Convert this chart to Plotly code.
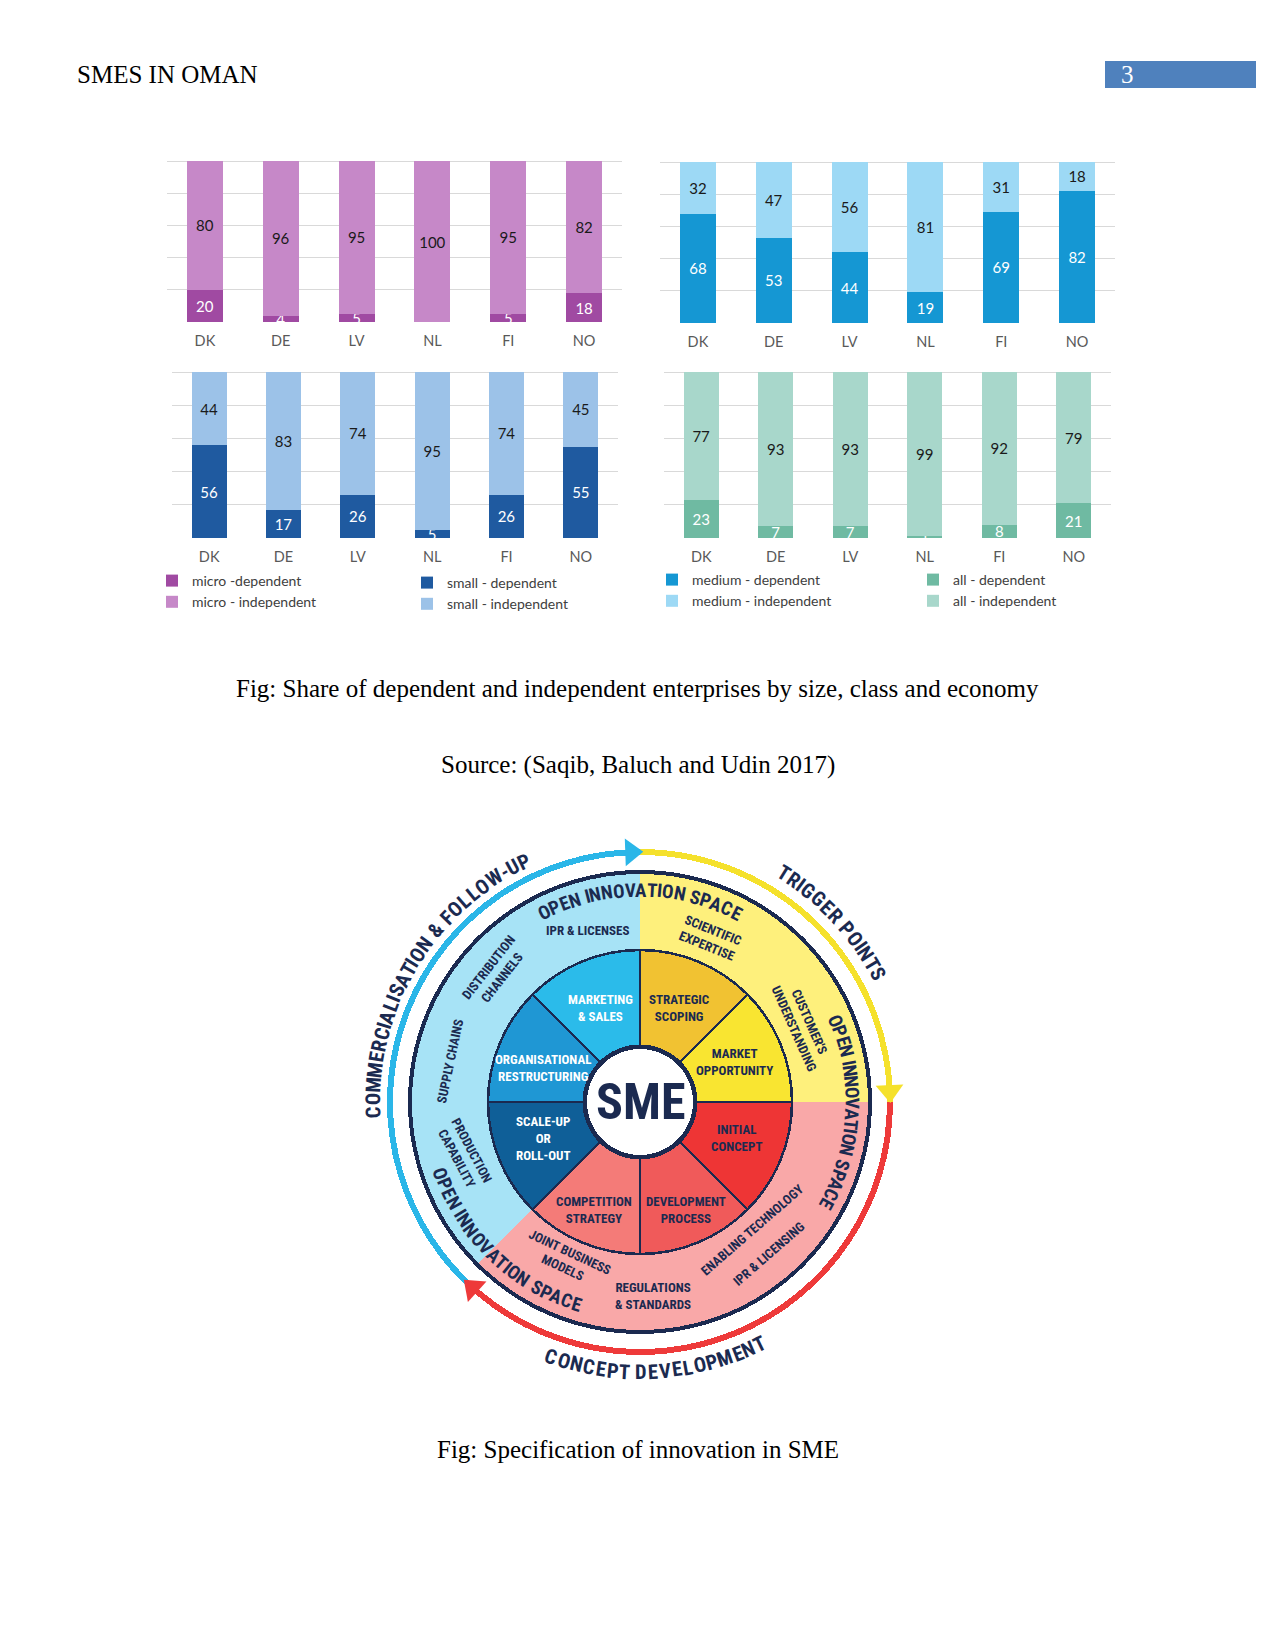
import math
import plotly.graph_objects as go

PAGE_W, PAGE_H = 1275, 1651
OFF = 8                      # default page margin of the html body
W, H = PAGE_W - OFF, PAGE_H - OFF

# ---------------- data ----------------
countries = ["DK", "DE", "LV", "NL", "FI", "NO"]
micro_dependent = [20, 4, 5, 0, 5, 18]
micro_independent = [80, 96, 95, 100, 95, 82]
medium_dependent = [68, 53, 44, 19, 69, 82]
medium_independent = [32, 47, 56, 81, 31, 18]
small_dependent = [56, 17, 26, 5, 26, 55]
small_independent = [44, 83, 74, 95, 74, 45]
all_dependent = [23, 7, 7, 1, 8, 21]
all_independent = [77, 93, 93, 99, 92, 79]

# innovation wheel
core_label = "SME"
inner_labels = ["MARKET<br>OPPORTUNITY", "STRATEGIC<br>SCOPING", "MARKETING<br>& SALES",
                "ORGANISATIONAL<br>RESTRUCTURING", "SCALE-UP<br>OR<br>ROLL-OUT",
                "COMPETITION<br>STRATEGY", "DEVELOPMENT<br>PROCESS", "INITIAL<br>CONCEPT"]
inner_start = [0, 45, 90, 135, 180, 225, 270, 315]
inner_end = [45, 90, 135, 180, 225, 270, 315, 360]
outer_start = [0, 90, 225]
outer_end = [90, 225, 360]
outer_items = ["IPR & LICENSES", "SCIENTIFIC<br>EXPERTISE", "CUSTOMER'S<br>UNDERSTANDING",
               "DISTRIBUTION<br>CHANNELS", "SUPPLY CHAINS", "PRODUCTION<br>CAPABILITY",
               "JOINT BUSINESS<br>MODELS", "REGULATIONS<br>& STANDARDS",
               "ENABLING TECHNOLOGY", "IPR & LICENSING"]
space_label = "OPEN INNOVATION SPACE"
phase_labels = ["TRIGGER POINTS", "COMMERCIALISATION & FOLLOW-UP", "CONCEPT DEVELOPMENT"]
phase_start = [0, 90, 226]
phase_end = [90, 226, 360]

# ---------------- styles ----------------
NAVY = "#1B2A50"
GRID = "#D9D9D9"
TICK = "#595959"
BARFONT = "Lato, Carlito, Calibri, sans-serif"
WFONT = "Liberation Sans Narrow, Arial Narrow, Roboto Condensed, DejaVu Sans Condensed, Roboto, sans-serif"
SERIF = "Liberation Serif, Times New Roman, serif"


def px(x, y):
    """page pixel -> paper coordinates"""
    return (x - OFF) / W, 1 - (y - OFF) / H


fig = go.Figure()

charts = [
    dict(key="", dom_x=(167, 622), dom_y=(161, 322), dep=micro_dependent, ind=micro_independent,
         names=("micro -dependent", "micro - independent"), colors=("#A04AA2", "#C688C8"),
         legend="legend"),
    dict(key="2", dom_x=(660, 1115), dom_y=(162, 323), dep=medium_dependent, ind=medium_independent,
         names=("medium - dependent", "medium - independent"), colors=("#1597D3", "#9DD9F5"),
         legend="legend2"),
    dict(key="3", dom_x=(172, 618), dom_y=(372, 538), dep=small_dependent, ind=small_independent,
         names=("small - dependent", "small - independent"), colors=("#1F5AA0", "#9CC2E8"),
         legend="legend3"),
    dict(key="4", dom_x=(664, 1111), dom_y=(372, 538), dep=all_dependent, ind=all_independent,
         names=("all - dependent", "all - independent"), colors=("#6FBAA2", "#A8D7CB"),
         legend="legend4"),
]

YTOP = 101
layout_axes = {}
for c in charts:
    k = c["key"]
    for vals, name, col, tcol in [(c["dep"], c["names"][0], c["colors"][0], "#FFFFFF"),
                                  (c["ind"], c["names"][1], c["colors"][1], "#1A1A1A")]:
        fig.add_trace(go.Bar(
            x=countries, y=vals, name=name, marker=dict(color=col, line=dict(width=0)),
            text=[str(v) for v in vals], textposition="inside", insidetextanchor="middle",
            textangle=0, constraintext="none",
            textfont=dict(color=tcol, size=15, family=BARFONT),
            xaxis="x" + k, yaxis="y" + k, legend=c["legend"], hoverinfo="skip"))
    x0, x1 = c["dom_x"]
    ytop, ybot = c["dom_y"]
    ytop_ext = ybot - (ybot - ytop) * YTOP / 100.0
    layout_axes["xaxis" + k] = dict(
        domain=[px(x0, 0)[0], px(x1, 0)[0]], anchor="y" + k, type="category",
        showgrid=False, zeroline=False, showline=False, ticks="",
        tickfont=dict(size=14.5, color=TICK, family=BARFONT), ticklabelstandoff=8)
    layout_axes["yaxis" + k] = dict(
        domain=[px(0, ybot)[1], px(0, ytop_ext)[1]], anchor="x" + k,
        range=[0, YTOP], tickvals=[0, 20, 40, 60, 80, 100], showticklabels=False, showgrid=True,
        gridcolor=GRID, gridwidth=1, zeroline=False, showline=False, ticks="")

legend_pos = {"legend": (192, 577), "legend2": (692, 576), "legend3": (447, 579), "legend4": (953, 576)}
legends = {}
for lk, (tx, ty) in legend_pos.items():
    lx, ly = px(tx - 40, ty - 12)
    legends[lk] = dict(x=lx, y=ly, xanchor="left", yanchor="top",
                       orientation="v", traceorder="normal", bgcolor="rgba(0,0,0,0)",
                       font=dict(size=14, color="#404040", family=BARFONT), tracegroupgap=0)

# ---------------- wheel ----------------
CX, CY = 640, 1102
HALF = 300
R_CORE, R_INNER, R_OUTER, R_ARC = 53, 152, 228, 250


def sector(a, b):
    return (a + b) / 2.0, b - a


fig.add_trace(go.Barpolar(theta=[180], width=[360], base=[0], r=[R_OUTER + 4],
                          marker=dict(color=NAVY, line=dict(width=0)), hoverinfo="skip",
                          showlegend=False, subplot="polar"))
outer_colors = ["#FEF07C", "#A7E3F6", "#F9A8A8"]
th, wd = zip(*[sector(a, b) for a, b in zip(outer_start, outer_end)])
fig.add_trace(go.Barpolar(theta=list(th), width=list(wd), base=[0] * 3, r=[R_OUTER] * 3,
                          marker=dict(color=outer_colors, line=dict(width=0)), hoverinfo="skip",
                          showlegend=False, subplot="polar"))
inner_colors = ["#F9E531", "#F1C232", "#2BBBEA", "#1F97D4", "#0F5F98", "#F47B78", "#F05A5A", "#EE3535"]
th, wd = zip(*[sector(a, b) for a, b in zip(inner_start, inner_end)])
fig.add_trace(go.Barpolar(theta=list(th), width=list(wd), base=[0] * 8, r=[R_INNER] * 8,
                          marker=dict(color=inner_colors, line=dict(color=NAVY, width=2.5)),
                          hoverinfo="skip", showlegend=False, subplot="polar"))
fig.add_trace(go.Barpolar(theta=[180, 180], width=[360, 360], base=[0, 0], r=[R_CORE + 4.5, R_CORE],
                          marker=dict(color=[NAVY, "#FFFFFF"], line=dict(width=0)), hoverinfo="skip",
                          showlegend=False, subplot="polar"))
arrow_colors = ["#F5E12C", "#2AB6E8", "#EE3A3A"]
th, wd = zip(*[sector(a, b) for a, b in zip(phase_start, phase_end)])
fig.add_trace(go.Barpolar(theta=list(th), width=list(wd), base=[R_ARC - 3] * 3, r=[6] * 3,
                          marker=dict(color=arrow_colors, line=dict(width=0)), hoverinfo="skip",
                          showlegend=False, subplot="polar"))
head_theta = [phase_start[0] + 2.5, phase_start[1] + 2.0, phase_start[2] + 2.0]
fig.add_trace(go.Scatterpolar(theta=head_theta, r=[R_ARC] * 3, mode="markers",
                              marker=dict(symbol="triangle-up", size=24, color=arrow_colors,
                                          angle=[(180 - t) % 360 for t in head_theta],
                                          line=dict(width=0)),
                              hoverinfo="skip", showlegend=False, subplot="polar"))

annotations = []


def pos(r, theta):
    x = CX + r * math.cos(math.radians(theta))
    y = CY - r * math.sin(math.radians(theta))
    return px(x, y)


def add_text(text, r, theta, size, color=NAVY, angle=0):
    x, y = pos(r, theta)
    annotations.append(dict(x=x, y=y, xref="paper", yref="paper", text=text, showarrow=False,
                            textangle=angle, xanchor="center", yanchor="middle",
                            font=dict(size=size, color=color, family=WFONT, weight="bold")))


WIDTHS = {'I': 0.45, ' ': 0.42, '&': 1.05, 'M': 1.25, 'W': 1.35, '-': 0.6, "'": 0.35,
          'O': 1.1, 'C': 1.05, 'G': 1.1, 'D': 1.05, 'N': 1.05, 'U': 1.05, 'L': 0.9,
          'F': 0.9, 'E': 0.92, 'T': 0.92}


def arc_text(s, center, span, r, cw, size, color=NAVY):
    ws = [WIDTHS.get(ch, 1.0) for ch in s]
    tot = sum(ws)
    cum = 0.0
    for ch, w in zip(s, ws):
        frac = (cum + w / 2) / tot
        cum += w
        if cw:
            t = center + span / 2 - span * frac
            ang = 90 - t
        else:
            t = center - span / 2 + span * frac
            ang = -t - 90
        ang = (ang + 180) % 360 - 180
        if ch == ' ':
            continue
        add_text(ch, r, t, size, color, ang)


add_text(core_label, 0, 0, 50)
inner_label_pos = [(103, 23), (102, 67), (102, 113), (103, 161), (103, 200.5), (117, 247), (117, 293), (103, 339.5)]
inner_text_col = [NAVY, NAVY, "#FFFFFF", "#FFFFFF", "#FFFFFF", NAVY, NAVY, NAVY]
for lab, (r, t), col in zip(inner_labels, inner_label_pos, inner_text_col):
    add_text(lab, r, t, 13, col)
outer_item_pos = [(179, 107, 0), (178, 67, 22), (179, 25.5, 66), (194, 138, -52), (194, 168, -78),
                  (183, 196.7, 62), (174, 245, 25), (194, 273.7, 0), (170, 311, -41), (199, 310.5, -41)]
for lab, (r, t, a) in zip(outer_items, outer_item_pos):
    add_text(lab, r, t, 13, NAVY, a)
arc_text(space_label, 90, 57, 212, True, 19)
arc_text(space_label, -3, 54, 212, True, 19)
arc_text(space_label, 226, 56, 212, False, 19)
arc_text(phase_labels[0], 43, 32, 270, True, 20.5)
arc_text(phase_labels[1], 149, 69, 267, True, 20.5)
arc_text(phase_labels[2], 273.5, 48, 270, False, 20.5)


# ---------------- page text ----------------
def page_text(text, x, y, anchor="center", color="#000000"):
    px_, py_ = px(x, y)
    return dict(x=px_, y=py_, xref="paper", yref="paper", text=text, showarrow=False,
                xanchor=anchor, yanchor="middle", font=dict(size=25, color=color, family=SERIF))


annotations += [
    page_text("SMES IN OMAN", 75, 74, "left"),
    page_text("3", 1127, 74, "center", "#FFFFFF"),
    page_text("Fig: Share of dependent and independent enterprises by size, class and economy", 637.5, 688),
    page_text("Source: (Saqib, Baluch and Udin 2017)", 637.5, 765),
    page_text("Fig: Specification of innovation in SME", 637.5, 1449),
]

bx0, by1 = px(1105, 61)
bx1, by0 = px(1256, 88)
shapes = [dict(type="rect", xref="paper", yref="paper", x0=bx0, x1=bx1, y0=by0, y1=by1,
               fillcolor="#4F81BD", line=dict(width=0), layer="below")]

pdx0, pdy1 = px(CX - HALF, CY - HALF)
pdx1, pdy0 = px(CX + HALF, CY + HALF)
fig.update_layout(
    width=W, height=H, margin=dict(l=0, r=0, t=0, b=0, pad=0),
    paper_bgcolor="#FFFFFF", plot_bgcolor="rgba(0,0,0,0)",
    barmode="stack", bargap=0.526, showlegend=True,
    polar=dict(domain=dict(x=[pdx0, pdx1], y=[pdy0, pdy1]),
               bgcolor="rgba(0,0,0,0)", barmode="overlay", hole=0,
               radialaxis=dict(range=[0, HALF], visible=False, showgrid=False),
               angularaxis=dict(visible=False, rotation=0, direction="counterclockwise",
                                showgrid=False)),
    annotations=annotations, shapes=shapes,
    **layout_axes, **legends)

fig.write_html("out.html")
